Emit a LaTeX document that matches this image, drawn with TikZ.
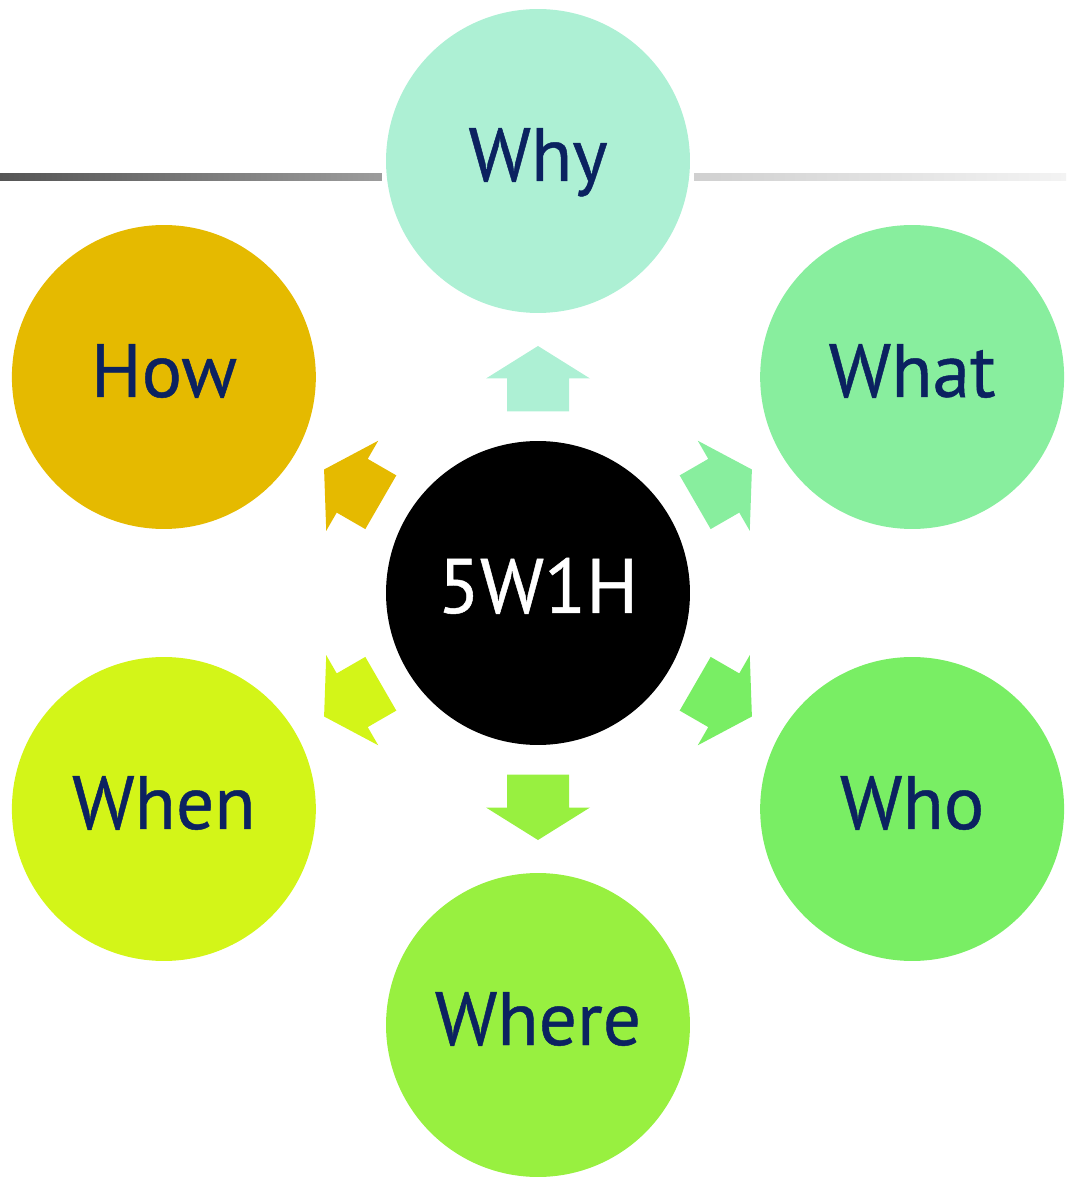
\documentclass[tikz,border=0pt]{standalone}
\usepackage{fontspec}
\setmainfont{PT Sans}
\newfontfamily\bubblefont[FakeBold=0.6]{PT Sans}
\definecolor{whycol}{HTML}{ADF0D4}
\definecolor{whatcol}{HTML}{88EE9E}
\definecolor{whocol}{HTML}{79EE64}
\definecolor{wherecol}{HTML}{98F040}
\definecolor{whencol}{HTML}{D3F518}
\definecolor{howcol}{HTML}{E5BA00}
\definecolor{wtext}{HTML}{0B2260}
\definecolor{linedark}{HTML}{555555}
\definecolor{linemid}{HTML}{9C9C9C}
\definecolor{linelight}{HTML}{D0D0D0}
\definecolor{linefade}{HTML}{F3F3F3}
\begin{document}
\begin{tikzpicture}[x=0.02cm,y=0.02cm,
        bubble/.style={circle,minimum size=6.08cm,inner sep=0pt,
            text height=1.2cm,text depth=0.4cm,
            font=\bubblefont\fontsize{43}{50}\selectfont,text=wtext}]

                \useasboundingbox (-538,-589) rectangle (528,593);

                \shade[left color=linedark,right color=linemid] (-538,412.3) rectangle (-156,419);
                \shade[left color=linelight,right color=linefade] (156,412.3) rectangle (528,419);

                \node[bubble,fill=black,text=white,font=\bubblefont\fontsize{44}{50}\selectfont] (core) at (0,0) {5W1H};
                \node[bubble,fill=whycol] (why) at (90:432) {Why};
                \node[bubble,fill=whatcol] (what) at (30:432) {What};
                \node[bubble,fill=whocol] (who) at (-30:432) {Who};
                \node[bubble,fill=wherecol] (where) at (-90:432) {Where};
                \node[bubble,fill=whencol] (when) at (210:432) {When};
                \node[bubble,fill=howcol] (how) at (150:432) {How};

                \foreach \ang/\col in {90/whycol,30/whatcol,-30/whocol,-90/wherecol,210/whencol,150/howcol}
                    \fill[\col,rotate=\ang] (181.5,-31) -- (214.5,-31) -- (214.5,-52) -- (247,0)
                        -- (214.5,52) -- (214.5,31) -- (181.5,31) -- cycle;
                \end{tikzpicture}
\end{document}
